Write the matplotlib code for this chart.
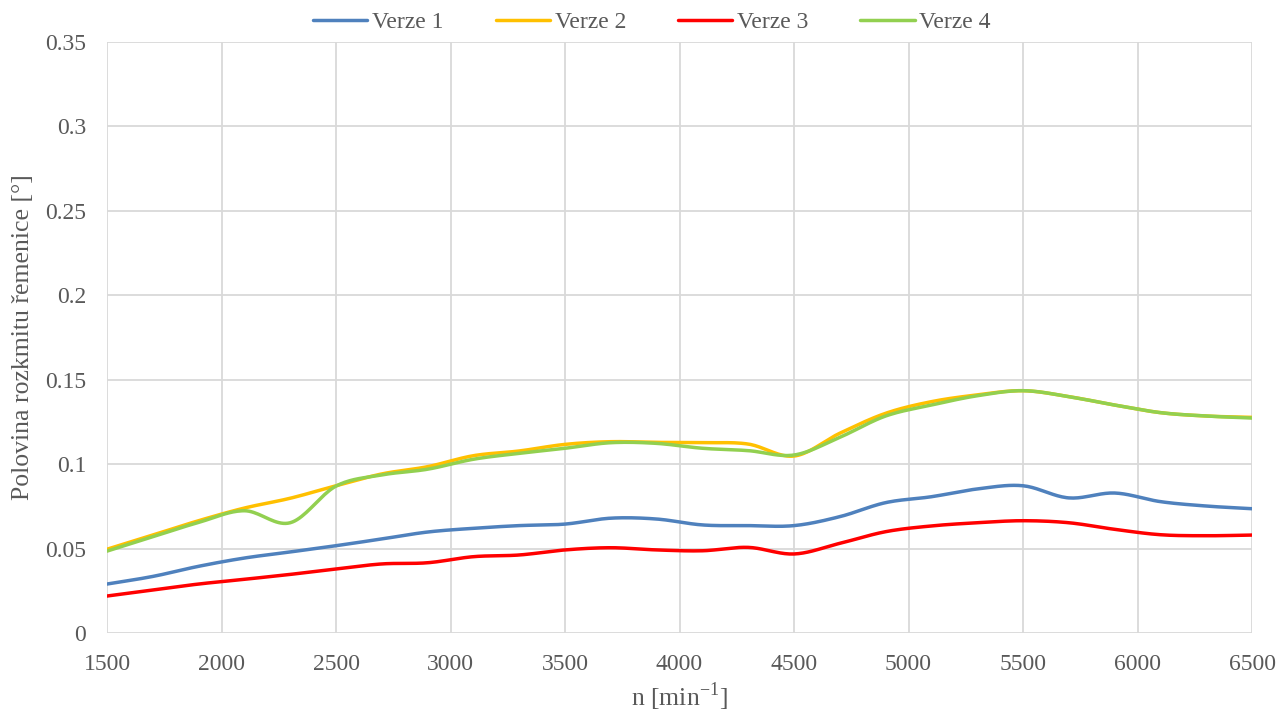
import numpy as np
import matplotlib
matplotlib.use("Agg")
import matplotlib.pyplot as plt

plt.rcParams['font.family'] = ['Liberation Serif', 'DejaVu Serif']
plt.rcParams['mathtext.fontset'] = 'custom'
plt.rcParams['mathtext.rm'] = 'Liberation Serif'

# otacky [min^-1]
rpm = [1500, 1700, 1900, 2100, 2300, 2500, 2700, 2900, 3100, 3300, 3500, 3700, 3900,
       4100, 4300, 4500, 4700, 4900, 5100, 5300, 5500, 5700, 5900, 6100, 6300, 6500]

verze1 = [0.0290, 0.0335, 0.0395, 0.0444, 0.0480, 0.0517, 0.0557, 0.0598, 0.0620, 0.0636,
          0.0645, 0.0680, 0.0675, 0.0640, 0.0636, 0.0636, 0.0689, 0.0772, 0.0807, 0.0853,
          0.0872, 0.0800, 0.0829, 0.0778, 0.0752, 0.0736]
verze2 = [0.0496, 0.0580, 0.0665, 0.0740, 0.0798, 0.0872, 0.0942, 0.0985, 0.1050, 0.1078,
          0.1117, 0.1133, 0.1129, 0.1127, 0.1119, 0.1048, 0.1183, 0.1301, 0.1370, 0.1410,
          0.1435, 0.1400, 0.1350, 0.1305, 0.1285, 0.1277]
verze3 = [0.0219, 0.0255, 0.0290, 0.0318, 0.0347, 0.0379, 0.0409, 0.0416, 0.0452, 0.0462,
          0.0492, 0.0505, 0.0492, 0.0487, 0.0507, 0.0468, 0.0531, 0.0600, 0.0634, 0.0653,
          0.0665, 0.0653, 0.0614, 0.0582, 0.0576, 0.0580]
verze4 = [0.0485, 0.0570, 0.0655, 0.0724, 0.0653, 0.0870, 0.0936, 0.0970, 0.1029, 0.1064,
          0.1094, 0.1127, 0.1123, 0.1094, 0.1080, 0.1054, 0.1159, 0.1285, 0.1350, 0.1405,
          0.1435, 0.1400, 0.1350, 0.1305, 0.1285, 0.1273]

labels = ['Verze 1', 'Verze 2', 'Verze 3', 'Verze 4']
colors = ['#4F81BD', '#FFC000', '#FF0000', '#92D050']


def smooth(x, y, n=20):
    # vyhlazeni jako v Excelu (Catmull-Rom)
    x = np.asarray(x, float)
    y = np.asarray(y, float)
    px = np.concatenate([[2 * x[0] - x[1]], x, [2 * x[-1] - x[-2]]])
    py = np.concatenate([[2 * y[0] - y[1]], y, [2 * y[-1] - y[-2]]])
    t = np.linspace(0, 1, n, endpoint=False)
    xs, ys = [], []
    for i in range(1, len(px) - 2):
        for p, out in ((px, xs), (py, ys)):
            p0, p1, p2, p3 = p[i - 1], p[i], p[i + 1], p[i + 2]
            out.append(0.5 * (2 * p1 + (-p0 + p2) * t + (2 * p0 - 5 * p1 + 4 * p2 - p3) * t ** 2
                              + (-p0 + 3 * p1 - 3 * p2 + p3) * t ** 3))
    xs.append([x[-1]])
    ys.append([y[-1]])
    return np.concatenate(xs), np.concatenate(ys)


fig = plt.figure(figsize=(12.81, 7.15), dpi=100)
ax = fig.add_axes([107 / 1281, (715 - 633) / 715, (1252 - 107) / 1281, (633 - 42) / 715])

for data, lab, col in zip([verze1, verze2, verze3, verze4], labels, colors):
    sx, sy = smooth(rpm, data)
    ax.plot(sx, sy, color=col, lw=2.5, label=lab, solid_capstyle='round')

ax.set_xlim(1500, 6500)
ax.set_ylim(0, 0.35)
ax.set_xticks(np.arange(1500, 6501, 500))
ax.set_yticks(np.arange(0, 0.351, 0.05))
ax.set_yticklabels(['0', '0.05', '0.1', '0.15', '0.2', '0.25', '0.3', '0.35'])
ax.grid(True, color='#D9D9D9', lw=1.3)
ax.set_axisbelow(True)
for s in ax.spines.values():
    s.set_visible(False)
ax.tick_params(length=0, labelsize=17, colors='#595959')
ax.tick_params(axis='x', pad=15)
ax.tick_params(axis='y', pad=15)

ax.set_xlabel(r'n [min$^{\mathregular{-1}}$]', fontsize=18.5, color='#595959', labelpad=4)
ax.set_ylabel('Polovina rozkmitu řemenice [°]', fontsize=18.5, color='#595959', labelpad=8)

leg = fig.legend(*ax.get_legend_handles_labels(), loc='center',
                 bbox_to_anchor=(652 / 1281, 1 - 22 / 715), ncol=4, frameon=False,
                 fontsize=17, handlelength=2.3, columnspacing=2.2, handletextpad=0.2,
                 borderaxespad=0)
for t in leg.get_texts():
    t.set_color('#595959')

fig.savefig('out.png', dpi=100)
